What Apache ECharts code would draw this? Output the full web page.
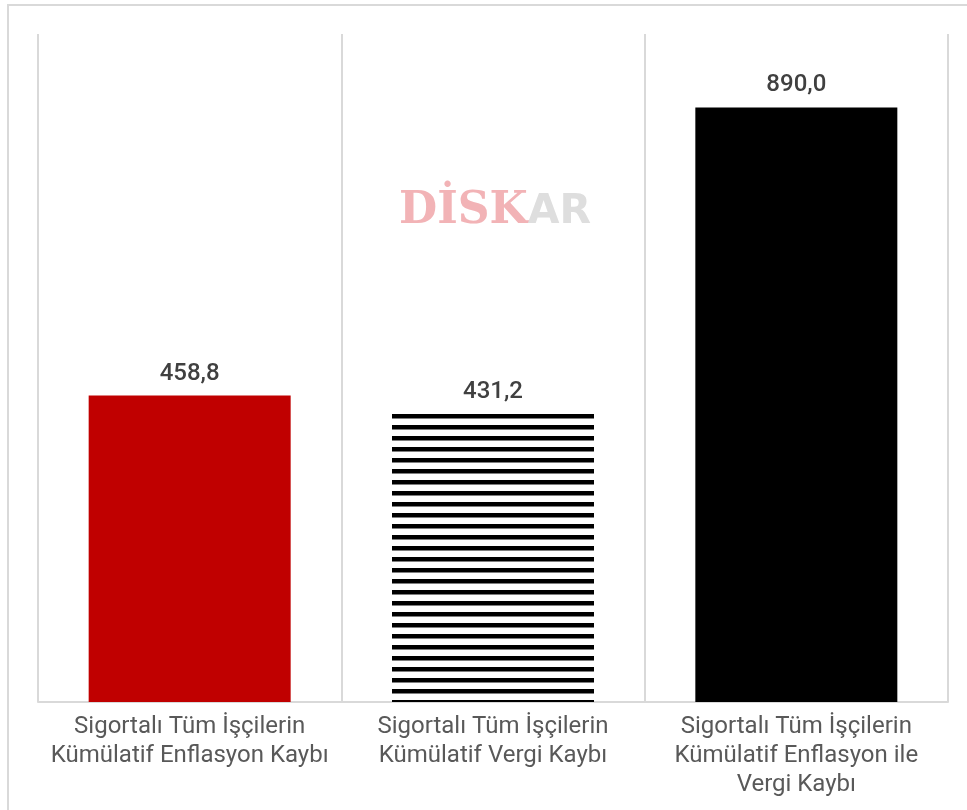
<!DOCTYPE html>
<html><head><meta charset="utf-8">
<script src="https://cdn.jsdelivr.net/npm/echarts@6/dist/echarts.min.js"></script>
<style>html,body{margin:0;padding:0;background:#fff}#c{width:967px;height:810px}</style>
</head><body><div id="c"></div>
<script>
const categories = [
  "Sigortalı Tüm İşçilerin\nKümülatif Enflasyon Kaybı",
  "Sigortalı Tüm İşçilerin\nKümülatif Vergi Kaybı",
  "Sigortalı Tüm İşçilerin\nKümülatif Enflasyon ile\nVergi Kaybı"
];
const values = [458.8, 431.2, 890.0];
const valueLabels = ["458,8", "431,2", "890,0"];

// striped pattern for the middle bar
const pc = document.createElement('canvas');
pc.width = 11; pc.height = 11;
const px = pc.getContext('2d');
px.fillStyle = '#ffffff'; px.fillRect(0,0,11,11);
px.fillStyle = '#000000'; px.fillRect(0,7,11,4);
px.fillStyle = '#7f7f7f'; px.fillRect(0,0,11,1);

const barColors = ['#c00000', {image: pc, repeat: 'repeat'}, '#000000'];

const chart = echarts.init(document.getElementById('c'), null, {renderer: 'canvas'});
chart.setOption({
  backgroundColor: '#ffffff',
  animation: false,
  grid: {left: 38, right: 19, top: 34, bottom: 108},
  xAxis: {
    type: 'category',
    data: categories,
    axisLine: {lineStyle: {color: '#d9d9d9', width: 2}},
    axisTick: {show: false},
    splitLine: {show: true, lineStyle: {color: '#d9d9d9', width: 2}},
    axisLabel: {
      color: '#595959', fontSize: 24, lineHeight: 29, margin: 10,
      fontFamily: 'Roboto', interval: 0
    }
  },
  yAxis: {
    type: 'value', min: 0, max: 1000, show: false,
    splitLine: {show: false}
  },
  series: [{
    type: 'bar',
    barWidth: 202,
    data: values.map((v, i) => ({value: v, itemStyle: {color: barColors[i]}})),
    label: {
      show: true, position: 'top', distance: 10,
      fontSize: 24, color: '#404040', fontFamily: 'Roboto', fontWeight: 500,
      formatter: p => valueLabels[p.dataIndex]
    }
  }],
  graphic: [
    {type: 'rect', shape: {x: 8, y: 5, width: 1200, height: 1200}, style: {fill: null, stroke: '#d9d9d9', lineWidth: 2}, silent: true},
    {type: 'text', left: 399, top: 190, z: 10,
     style: {text: '{p|DİSK}{g|AR}', rich: {
       p: {fontSize: 44, fontWeight: 'bold', fontFamily: 'DejaVu Serif', fill: '#f2b3b6'},
       g: {fontSize: 41, fontWeight: 'bold', fontFamily: 'DejaVu Sans', fill: '#dedede'}
     }}}
  ]
});
</script></body></html>
